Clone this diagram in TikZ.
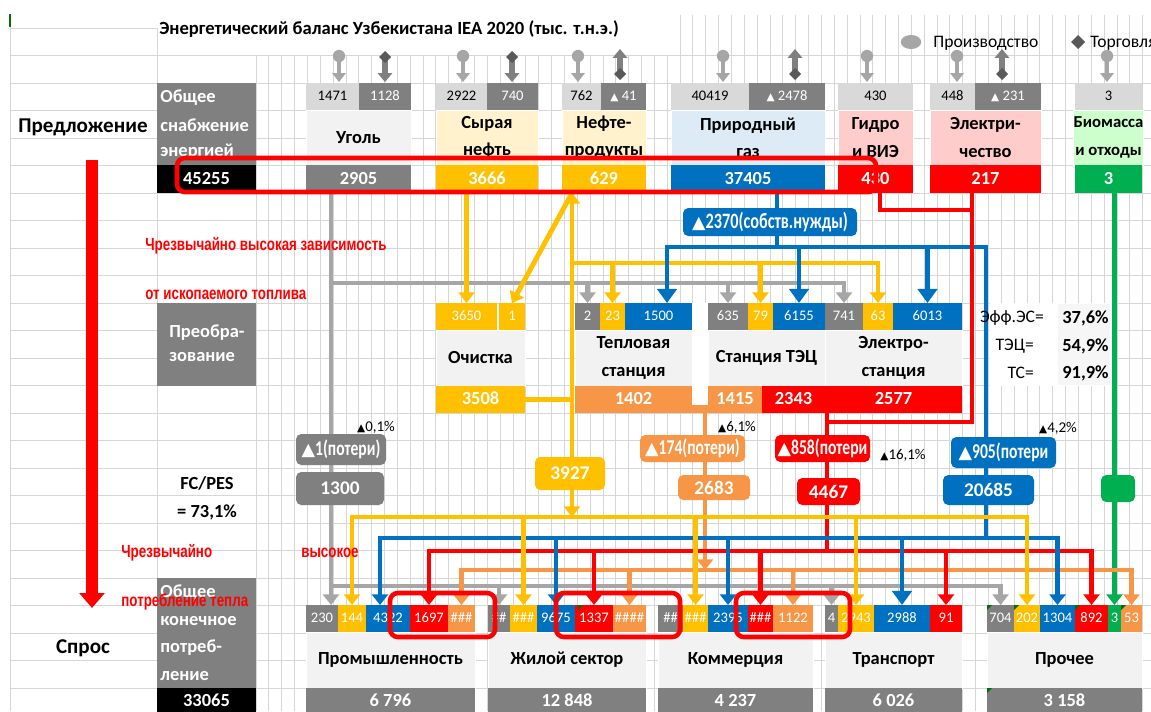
\documentclass[tikz,border=0pt]{standalone}
\usepackage{fontspec}
\usepackage{graphicx}
\setmainfont{Carlito}
\newfontfamily\symf{DejaVu Sans}
\newfontfamily\condf[FakeStretch=0.74]{Carlito}
\newfontfamily\narf[FakeStretch=0.76]{Liberation Sans}
\usetikzlibrary{arrows.meta}
\definecolor{dg}{RGB}{128,128,128}
\definecolor{lg}{RGB}{217,217,217}
\definecolor{vg}{RGB}{242,242,242}
\definecolor{fg}{RGB}{166,166,166}
\definecolor{dk}{RGB}{89,89,89}
\definecolor{gl}{RGB}{214,214,214}
\definecolor{am}{RGB}{255,192,0}
\definecolor{ly}{RGB}{255,242,204}
\definecolor{bu}{RGB}{0,112,192}
\definecolor{lb}{RGB}{221,235,247}
\definecolor{rd}{RGB}{255,0,0}
\definecolor{pk}{RGB}{255,204,204}
\definecolor{gn}{RGB}{0,176,80}
\definecolor{lgn}{RGB}{204,255,204}
\definecolor{og}{RGB}{247,150,70}
\definecolor{xg}{RGB}{0,112,0}
\newcommand{\trs}{{\symf\fontsize{6}{6}\selectfont ▲}}
\newcommand{\trb}{{\symf\fontsize{10}{10}\selectfont ▲}}
\newcommand{\xcell}[6]{\node[box,minimum width={(#4-#2)*0.02cm},minimum height={(#5-#3)*0.02cm},#6] (#1) at ({(#2+#4)/2},{(#3+#5)/2})}
\tikzset{ft/.tip={Triangle[width=9pt,length=6pt]},fb/.tip={Triangle[width=11pt,length=8pt]}}
\pgfdeclarelayer{grid}
\pgfdeclarelayer{flow}
\pgfsetlayers{grid,flow,main}

\begin{document}
\begin{tikzpicture}[x=0.02cm,y=-0.02cm,
  box/.style={inner sep=0pt,outer sep=0pt,align=center},
  inp/.style={text height=5.4pt,text depth=0.6pt,font=\fontsize{8.3}{9}\selectfont},
  wi/.style={inp,text=white},
  tot/.style={text height=6.8pt,text depth=0.6pt,text=white,font=\bfseries\fontsize{10.5}{12}\selectfont},
  nm/.style={draw=white,line width=0.5pt,font=\bfseries\fontsize{10.5}{15.5}\selectfont},
  rnd/.style={rounded corners=3pt},
  lossf/.style={text=white,font=\condf\bfseries\fontsize{12}{14}\selectfont},
  valf/.style={text=white,font=\bfseries\fontsize{11}{13}\selectfont},
  fl/.style={line width=2.8pt},
  hl/.style={rd,line width=2.6pt,rounded corners=4.5pt},
  note/.style={text=rd,inner sep=0pt,anchor=west,font=\narf\bfseries\fontsize{10}{12}\selectfont},
  lbl/.style={font=\bfseries\fontsize{12}{14}\selectfont},
  wl/.style={text=white,inner sep=0pt,anchor=west,font=\bfseries\fontsize{10.5}{12}\selectfont},
  pct/.style={font=\fontsize{8.5}{10}\selectfont},
  grd/.style={gl,line width=0.5pt}]
  \useasboundingbox (0,0) rectangle (1151,711);
  \clip (0,0) rectangle (1151,711);

  % sheet grid
  \begin{pgfonlayer}{grid}
    \fill[white] (0,0) rectangle (1151,711);
    \draw[grd] (10,28) -- (157,28);
    \foreach \r in {1,...,24} \draw[grd] (10,{28+27.5*\r}) -- (1151,{28+27.5*\r});
    \draw[grd] (10,15) -- (10,711);
    \draw[grd] (157,28) -- (157,711);
    \foreach \k in {0,...,70} \draw[grd] ({256+12.85*\k},55) -- ({256+12.85*\k},711);
    \foreach \k in {33,...,70} \draw[grd] ({256+12.85*\k},15) -- ({256+12.85*\k},55);
    \draw[xg,line width=1pt] (10,14) -- (10,27);
  \end{pgfonlayer}

  % title and legend
  \node[anchor=west,inner sep=0pt,font=\bfseries\fontsize{10.6}{12}\selectfont] (title) at (159,29) {Энергетический баланс Узбекистана IEA 2020 (тыс. т.н.э.)};
  \fill[fg] (911,42) ellipse [x radius=5.8pt,y radius=4pt];
  \node[anchor=west,inner sep=0pt,font=\fontsize{10}{12}\selectfont] (legP) at (933,43) {Производство};
  \fill[dk] (1078,35) -- (1085,42) -- (1078,49) -- (1071,42) -- cycle;
  \node[anchor=west,inner sep=0pt,font=\fontsize{10}{12}\selectfont] (legT) at (1090,43) {Торговля};

  % production and trade markers
  \foreach \x in {339,463,578,723,867,957,1107}{
    \draw[fg,line width=2.3pt,-{Triangle[width=7.5pt,length=5pt]}] (\x,61) -- (\x,82);
    \fill[fg] (\x,56) circle (3.5pt);
  }
  \foreach \x in {385,512}{
    \draw[dg,line width=3pt,-{Triangle[width=8pt,length=5pt]}] (\x,60) -- (\x,82);
    \fill[dk] (\x,51) -- ++(6,6) -- ++(-6,6) -- ++(-6,-6) -- cycle;
  }
  \foreach \x in {620,795,1002}{
    \draw[dg,line width=3pt,-{Triangle[width=8pt,length=5pt]}] (\x,76) -- (\x,49);
    \fill[dk] (\x,68) -- ++(6,6) -- ++(-6,6) -- ++(-6,-6) -- cycle;
  }

  % left labels
  \node[lbl] (supL) at (83,127) {Предложение};
  \xcell{tpesB}{157}{83}{256}{165}{fill=dg}{};
  \node[wl] (tpes1) at (160,98) {Общее};
  \node[wl] (tpes2) at (160,125) {снабжение};
  \node[wl] (tpes3) at (160,152) {энергией};
  \xcell{tpesV}{157}{165}{256}{193}{fill=black,tot}{45255};

  \xcell{trfB}{157}{303}{256}{386}{fill=dg}{};
  \node[wl] (trf1) at (169,333) {Преобра-};
  \node[wl] (trf2) at (169,357) {зование};

  \node[font=\bfseries\fontsize{10.5}{12}\selectfont] (fc1) at (207,483) {FC/PES};
  \node[font=\bfseries\fontsize{10.5}{12}\selectfont] (fc2) at (207,512) {= 73,1\%};

  \node[lbl] (demL) at (83,648) {Спрос};
  \xcell{tfcB}{157}{578}{256}{688}{fill=dg}{};
  \node[wl] (tfc1) at (160,593) {Общее};
  \node[wl] (tfc2) at (160,621) {конечное};
  \node[wl] (tfc3) at (160,648) {потреб-};
  \node[wl] (tfc4) at (160,676) {ление};
  \xcell{tfcV}{157}{688}{256}{714}{fill=black,tot}{33065};

  % supply
  \xcell{coalP}{306}{83}{359}{110}{fill=lg,inp}{1471};
  \xcell{coalI}{359}{83}{411}{110}{fill=dg,wi}{1128};
  \xcell{coalN}{306}{110}{411}{165}{fill=vg,nm}{Уголь};
  \xcell{coalT}{306}{165}{411}{193}{fill=dg,tot}{2905};

  \xcell{crudeP}{436}{83}{487}{110}{fill=lg,inp}{2922};
  \xcell{crudeI}{487}{83}{538}{110}{fill=dg,wi}{740};
  \xcell{crudeN}{436}{110}{538}{165}{fill=ly,nm}{Сырая\\нефть};
  \xcell{crudeT}{436}{165}{538}{193}{fill=am,tot}{3666};

  \xcell{prodP}{562}{83}{601}{110}{fill=lg,inp}{762};
  \xcell{prodI}{601}{83}{646}{110}{fill=dg,wi}{{\trs} 41};
  \xcell{prodN}{562}{110}{646}{165}{fill=ly,nm}{Нефте-\\продукты};
  \xcell{prodT}{562}{165}{646}{193}{fill=am,tot}{629};

  \xcell{gasP}{671}{83}{749}{110}{fill=lg,inp}{40419};
  \xcell{gasI}{749}{83}{825}{110}{fill=dg,wi}{{\trs} 2478};
  \xcell{gasN}{671}{110}{825}{165}{fill=lb,nm}{Природный\\газ};
  \xcell{gasT}{671}{165}{825}{193}{fill=bu,tot}{37405};

  \xcell{hydP}{838}{83}{913}{110}{fill=lg,inp}{430};
  \xcell{hydN}{838}{110}{913}{165}{fill=pk,nm}{Гидро\\и ВИЭ};
  \xcell{hydT}{838}{165}{913}{193}{fill=rd,tot}{430};

  \xcell{elP}{930}{83}{975}{110}{fill=lg,inp}{448};
  \xcell{elI}{975}{83}{1041}{110}{fill=dg,wi}{{\trs} 231};
  \xcell{elN}{930}{110}{1041}{165}{fill=pk,nm}{Электри-\\чество};
  \xcell{elT}{930}{165}{1041}{193}{fill=rd,tot}{217};

  \xcell{bioP}{1075}{83}{1142}{110}{fill=lg,inp}{3};
  \xcell{bioN}{1075}{110}{1142}{165}{fill=lgn,nm,font=\bfseries\fontsize{9.5}{15.5}\selectfont}{Биомасса\\и отходы};
  \xcell{bioT}{1075}{165}{1142}{193}{fill=gn,tot}{3};

  % transformation
  \xcell{refI1}{436}{303}{497}{330}{fill=am,wi}{3650};
  \xcell{refI2}{499}{303}{525}{330}{fill=am,wi}{1};
  \xcell{refN}{436}{330}{525}{386}{fill=vg,nm}{Очистка};
  \xcell{refO}{436}{386}{525}{413}{fill=am,tot}{3508};

  \xcell{htI1}{575}{303}{600}{330}{fill=dg,wi}{2};
  \xcell{htI2}{600}{303}{625}{330}{fill=am,wi}{23};
  \xcell{htI3}{625}{303}{692}{330}{fill=bu,wi}{1500};
  \xcell{htN}{575}{330}{692}{386}{fill=vg,nm}{Тепловая\\станция};
  \xcell{htO}{575}{386}{692}{413}{fill=og,tot}{1402};

  \xcell{chpI1}{708}{303}{748}{330}{fill=dg,wi}{635};
  \xcell{chpI2}{748}{303}{773}{330}{fill=am,wi}{79};
  \xcell{chpI3}{773}{303}{825}{330}{fill=bu,wi}{6155};
  \xcell{chpN}{708}{330}{825}{386}{fill=vg,nm}{Станция ТЭЦ};
  \xcell{chpO1}{708}{386}{762}{413}{fill=og,tot}{1415};
  \xcell{chpO2}{762}{386}{825}{413}{fill=rd,tot}{2343};

  \xcell{ppI1}{825}{303}{863}{330}{fill=dg,wi}{741};
  \xcell{ppI2}{863}{303}{893}{330}{fill=am,wi}{63};
  \xcell{ppI3}{893}{303}{962}{330}{fill=bu,wi}{6013};
  \xcell{ppN}{825}{330}{962}{386}{fill=vg,nm}{Электро-\\станция};
  \xcell{ppO}{825}{386}{962}{413}{fill=rd,tot}{2577};

  % efficiencies
  \node[anchor=east,font=\fontsize{10}{12}\selectfont] (effES) at (1050,318) {Эфф.ЭС=};
  \node[anchor=east,font=\fontsize{10}{12}\selectfont] (effCHP) at (1040,346) {ТЭЦ=};
  \node[anchor=east,font=\fontsize{10}{12}\selectfont] (effTS) at (1040,373) {ТС=};
  \node[anchor=west,inner sep=0pt,font=\bfseries\fontsize{10.5}{12}\selectfont] (effESv) at (1062,318) {37,6\%};
  \node[anchor=west,inner sep=0pt,font=\bfseries\fontsize{10.5}{12}\selectfont] (effCHPv) at (1062,346) {54,9\%};
  \node[anchor=west,inner sep=0pt,font=\bfseries\fontsize{10.5}{12}\selectfont] (effTSv) at (1062,373) {91,9\%};

  % losses and flows to demand
  \xcell{ownG}{683}{208}{857}{236}{fill=bu,rnd,lossf,font=\condf\bfseries\fontsize{12.5}{14}\selectfont}{{\trb}2370(собств.нужды)};
  \xcell{lossC}{296}{434}{386}{465}{fill=dg,rnd,lossf}{{\trb}1(потери)};
  \xcell{valC}{296}{472}{384}{505}{fill=dg,rnd,valf}{1300};
  \xcell{valO}{535}{457}{605}{490}{fill=am,rnd,valf}{3927};
  \xcell{lossH}{640}{435}{745}{462}{fill=og,rnd,lossf}{{\trb}174(потери)};
  \xcell{valH}{678}{475}{750}{500}{fill=og,rnd,valf}{2683};
  \xcell{lossE}{775}{435}{870}{462}{fill=rd,rnd,lossf}{{\trb}858(потери};
  \xcell{valE}{797}{478}{860}{505}{fill=rd,rnd,valf}{4467};
  \xcell{lossG}{951}{437}{1056}{468}{fill=bu,rnd,lossf}{{\trb}905(потери};
  \xcell{valG}{943}{475}{1034}{505}{fill=bu,rnd,valf}{20685};
  \xcell{valB}{1101}{475}{1135}{502}{fill=gn,rnd}{};

  \node[pct] (pC) at (376,427) {{\trs}0,1\%};
  \node[pct] (pH) at (737,427) {{\trs}6,1\%};
  \node[pct] (pE) at (903,455) {{\trs}16,1\%};
  \node[pct] (pG) at (1058,428) {{\trs}4,2\%};

  % demand
  \xcell{indI1}{306}{605}{338}{632}{fill=dg,wi}{230};
  \xcell{indI2}{338}{605}{366}{632}{fill=am,wi}{144};
  \xcell{indI3}{366}{605}{410}{632}{fill=bu,wi}{4322};
  \xcell{indI4}{410}{605}{448}{632}{fill=rd,wi}{1697};
  \xcell{indI5}{448}{605}{475}{632}{fill=og,wi}{\#\#\#};
  \xcell{indN}{306}{632}{475}{688}{fill=vg,nm}{Промышленность};
  \xcell{indT}{306}{688}{475}{714}{fill=dg,tot}{6 796};

  \xcell{resI1}{488}{605}{510}{632}{fill=dg,wi}{\#\#};
  \xcell{resI2}{510}{605}{537}{632}{fill=am,wi}{\#\#\#};
  \xcell{resI3}{537}{605}{575}{632}{fill=bu,wi}{9675};
  \xcell{resI4}{575}{605}{613}{632}{fill=rd,wi}{1337};
  \xcell{resI5}{613}{605}{646}{632}{fill=og,wi}{\#\#\#\#};
  \xcell{resN}{488}{632}{646}{688}{fill=vg,nm}{Жилой сектор};
  \xcell{resT}{488}{688}{646}{714}{fill=dg,tot}{12 848};

  \xcell{comI1}{658}{605}{683}{632}{fill=dg,wi}{\#\#};
  \xcell{comI2}{683}{605}{708}{632}{fill=am,wi}{\#\#\#};
  \xcell{comI3}{708}{605}{748}{632}{fill=bu,wi}{2395};
  \xcell{comI4}{748}{605}{773}{632}{fill=rd,wi}{\#\#\#};
  \xcell{comI5}{773}{605}{813}{632}{fill=og,wi}{1122};
  \xcell{comN}{658}{632}{813}{688}{fill=vg,nm}{Коммерция};
  \xcell{comT}{658}{688}{813}{714}{fill=dg,tot}{4 237};

  \xcell{trI1}{825}{605}{838}{632}{fill=dg,wi}{4};
  \xcell{trI2}{838}{605}{874}{632}{fill=am,wi}{2943};
  \xcell{trI3}{874}{605}{930}{632}{fill=bu,wi}{2988};
  \xcell{trI4}{930}{605}{962}{632}{fill=rd,wi}{91};
  \xcell{trN}{825}{632}{962}{688}{fill=vg,nm}{Транспорт};
  \xcell{trT}{825}{688}{962}{714}{fill=dg,tot}{6 026};

  \xcell{othI1}{987}{605}{1014}{632}{fill=dg,wi}{704};
  \xcell{othI2}{1014}{605}{1040}{632}{fill=am,wi}{202};
  \xcell{othI3}{1040}{605}{1075}{632}{fill=bu,wi}{1304};
  \xcell{othI4}{1075}{605}{1108}{632}{fill=rd,wi}{892};
  \xcell{othI5}{1108}{605}{1121}{632}{fill=gn,wi}{3};
  \xcell{othI6}{1121}{605}{1142}{632}{fill=og,wi}{53};
  \xcell{othN}{987}{632}{1142}{688}{fill=vg,nm}{Прочее};
  \xcell{othT}{987}{688}{1142}{714}{fill=dg,tot}{3 158};

  % comment marks
  \foreach \x/\y in {987/605,1014/605,1075/605,1121/605,987/688,578/605}
    \fill[xg] (\x,\y) -- ++(5,0) -- ++(-5,5) -- cycle;

  % flows, behind the cells
  \begin{pgfonlayer}{flow}
    \fill[white] (990,303) rectangle (1112,386);
    \fill[gray!7] (1058,304) rectangle (1110,385);
    \fill[white] (692,303) rectangle (708,413);
    \coordinate (gb1) at (0,283);
    \coordinate (yb1) at (0,263);
    \coordinate (bb1) at (0,247);
    \coordinate (rb0) at (0,210);
    \coordinate (rb1) at (0,422);
    \coordinate (yb2) at (0,517);
    \coordinate (bb2) at (0,538);
    \coordinate (rb2) at (0,551);
    \coordinate (ob2) at (0,570);
    \coordinate (gb2) at (0,586);
    \coordinate (cx) at (331,0);
    \coordinate (ox) at (572,0);
    \coordinate (gx) at (777,0);
    \coordinate (hb) at (667,0);
    \coordinate (lx) at (986,0);
    \coordinate (ib) at (380,0);
    \coordinate (hx) at (880,0);
    \coordinate (ex) at (972,0);
    \coordinate (rx) at (827,0);
    \coordinate (qx) at (705,0);

    % coal
    \draw[fl,fg,-ft] (coalT.south -| cx) -- (indI1.north -| cx);
    \draw[fl,fg,-ft] (cx |- gb1) -| (ppI1.north);
    \draw[fl,fg,-ft] (htI1.north |- gb1) -- (htI1.north);
    \draw[fl,fg,-ft] (chpI1.north |- gb1) -- (chpI1.north);
    % oil
    \draw[fl,am,-ft] (crudeT.south -| refI1) -- (refI1.north);
    \draw[fl,am] (refO.east) -- (refO.east -| ox);
    \draw[fl,am,-ft] (valO.north -| ox) -- (prodT.south -| ox);
    \draw[fl,am,-ft] (prodT.south -| ox) -- (refI2.north);
    \draw[fl,am,-ft] (ox |- yb1) -| (ppI2.north);
    \draw[fl,am,-ft] (htI2.north |- yb1) -- (htI2.north);
    \draw[fl,am,-ft] (chpI2.north |- yb1) -- (chpI2.north);
    % gas
    \draw[fl,bu] (gasT.south -| gx) -- (gx |- bb1);
    \draw[fl,bu,fb-] (hb |- htI3.north) |- (bb1 -| lx) -- (lx |- bb2);
    \draw[fl,bu,-fb] (chpI3.north |- bb1) -- (chpI3.north);
    \draw[fl,bu,-fb] (ppI3.north |- bb1) -- (ppI3.north);
    % electricity
    \draw[fl,rd] (hydT.south -| hx) |- (rb0 -| ex);
    \draw[fl,rd] (elT.south -| ex) |- (rb1 -| rx);
    \draw[fl,rd] (chpO2.south -| rx) -- (rx |- rb2);
    % heat
    \fill[og] (692,405) rectangle (708,413);
    \draw[fl,og,-ft] (qx |- htO.south) -- (qx |- ob2);
    % biomass
    \draw[fl,gn,-ft] (othI5.north |- bioT.south) -- (othI5.north);

    % distribution to sectors
    \draw[fl,fg,-ft] (cx |- gb2) -| (othI1.north);
    \draw[fl,fg,-ft] (resI1.north |- gb2) -- (resI1.north);
    \draw[fl,fg,-ft] (trI1.north |- gb2) -- (trI1.north);
    \draw[fl,og,ft-ft] (indI5.north) |- (ob2 -| othI6) -- (othI6.north);
    \draw[fl,og,-ft] (resI5.north |- ob2) -- (resI5.north);
    \draw[fl,og,-ft] (comI5.north |- ob2) -- (comI5.north);
    \draw[fl,rd,ft-ft] (indI4.north) |- (rb2 -| othI4) -- (othI4.north);
    \draw[fl,rd,-ft] (resI4.north |- rb2) -- (resI4.north);
    \draw[fl,rd,-ft] (comI4.north |- rb2) -- (comI4.north);
    \draw[fl,rd,-ft] (trI4.north |- rb2) -- (trI4.north);
    \draw[fl,bu,ft-ft] (ib |- indI3.north) |- (bb2 -| othI3) -- (othI3.north);
    \draw[fl,bu,-ft] (resI3.north |- bb2) -- (resI3.north);
    \draw[fl,bu,-ft] (comI3.north |- bb2) -- (comI3.north);
    \draw[fl,bu,-fb] (trI3.north |- bb2) -- (trI3.north);
    \draw[fl,am,-ft] (valO.south -| ox) -- (ox |- yb2);
    \draw[fl,am,ft-ft] (indI2.north) |- (yb2 -| othI2) -- (othI2.north);
    \draw[fl,am,-ft] (resI2.north |- yb2) -- (resI2.north);
    \draw[fl,am,-ft] (comI2.north |- yb2) -- (comI2.north);
    \draw[fl,am,-ft] (trI2.north |- yb2) -- (trI2.north);
  \end{pgfonlayer}

  % red highlights
  \draw[hl] (177,158) rectangle (876,192);
  \draw[hl] (390,593) rectangle (495,637);
  \draw[hl] (556,593) rectangle (680,637);
  \draw[hl] (736,593) rectangle (850,637);
  \draw[rd,line width=6.8pt,-{Triangle[width=14pt,length=8.5pt]}] (92,160) -- (92,608);

  % red notes
  \node[note] (n1) at (145,246) {Чрезвычайно высокая зависимость};
  \node[note] (n2) at (145,295) {от ископаемого топлива};
  \node[note] (n3) at (121,553) {Чрезвычайно};
  \node[note] (n4) at (301,553) {высокое};
  \node[note] (n5) at (121,602) {потребление тепла};
\end{tikzpicture}
\end{document}
